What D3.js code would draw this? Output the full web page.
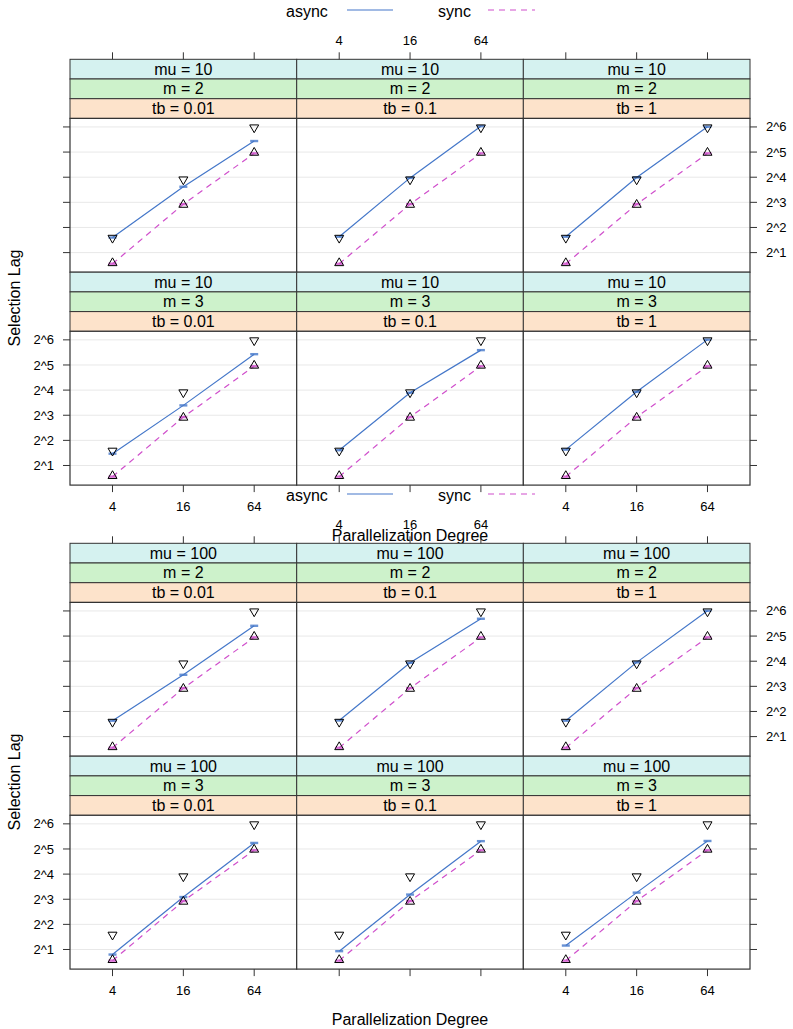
<!DOCTYPE html>
<html>
<head>
<meta charset="utf-8">
<script src="https://d3js.org/d3.v7.min.js"></script>
<style>
  body { margin: 0; background: #fff; }
  text { font-family: "Liberation Sans", Arial, sans-serif; fill: #000; }
</style>
</head>
<body>
<div id="chart"></div>
<script>
// size of page
const width = 793;
const height = 1029;

// data
const degrees = [4, 16, 64];
const muLevels = [10, 100];
const mLevels = [2, 3];
const tbLevels = [0.01, 0.1, 1];
const xTicks = [4, 16, 64];
const yTicks = [2, 4, 8, 16, 32, 64];
const yTickLabels = ["2^1", "2^2", "2^3", "2^4", "2^5", "2^6"];

// async mean lag, one row per tb level
const asyncMu10M2 = [[3.03, 12.3, 43.4], [3.10, 15.7, 65.4], [3.10, 15.9, 64.4]];
const asyncMu10M3 = [[2.77, 10.5, 43.1], [3.05, 14.9, 48.2], [3.10, 15.3, 64.4]];
const asyncMu100M2 = [[3.10, 11.0, 42.5], [3.12, 15.3, 51.6], [3.10, 15.5, 64.4]];
const asyncMu100M3 = [[1.74, 8.5, 37.8], [1.91, 9.1, 39.7], [2.23, 9.6, 39.9]];
// sync mean lag (same in every panel)
const syncMean = [1.47, 7.6, 30.9];
// reference marks (triangles)
const asyncRef = [3, 15, 63];
const syncRef = [1.5, 7.5, 31.5];

const asyncData = {
  "10-2": asyncMu10M2, "10-3": asyncMu10M3,
  "100-2": asyncMu100M2, "100-3": asyncMu100M3
};

const blue = "#4477c9";
const pink = "#d04fcc";
const stripCols = ["#d5f2f0", "#cdf2cb", "#fde3cb"];

// layout
const colX = [70, 296.7, 523.3];
const colW = 226.7;
const stripH = 19.7;
const panelH = 153.8;
const rowTop0 = 59.3;
const rowStep = 3 * stripH + panelH;

const svg = d3.select("#chart").append("svg")
    .attr("width", width)
    .attr("height", height);

function triPath(cx, cy, up) {
  const r = 5.2, xc = 4.5, yc = 2.6;
  if (up) return `M${cx},${cy - r}L${cx + xc},${cy + yc}L${cx - xc},${cy + yc}Z`;
  return `M${cx},${cy + r}L${cx + xc},${cy - yc}L${cx - xc},${cy - yc}Z`;
}

function drawChart(oy, mu) {
  const g = svg.append("g").attr("transform", `translate(0,${oy})`);

  // legend
  g.append("text").attr("x", 286).attr("y", 11).attr("dy", "0.35em")
    .style("font-size", "16px").text("async");
  g.append("line").attr("x1", 347).attr("x2", 393).attr("y1", 10).attr("y2", 10)
    .attr("stroke", blue).attr("stroke-width", 1.2);
  g.append("text").attr("x", 438).attr("y", 11).attr("dy", "0.35em")
    .style("font-size", "16px").text("sync");
  g.append("line").attr("x1", 488).attr("x2", 535).attr("y1", 10).attr("y2", 10)
    .attr("stroke", pink).attr("stroke-width", 1.2).attr("stroke-dasharray", "6,5");

  mLevels.forEach((m, ri) => {
    const top = rowTop0 + ri * rowStep;
    const pTop = top + 3 * stripH;
    const pBot = pTop + panelH;
    const y = d3.scaleLog().base(2)
      .domain([Math.pow(2, 0.22), Math.pow(2, 6.34)])
      .range([pBot, pTop]);

    tbLevels.forEach((tb, ci) => {
      const x0 = colX[ci];
      const x = d3.scaleLog().base(2)
        .domain([Math.pow(2, 0.8), Math.pow(2, 7.2)])
        .range([x0, x0 + colW]);

      // strips
      const labels = [`mu = ${mu}`, `m = ${m}`, `tb = ${tb}`];
      labels.forEach((lab, si) => {
        g.append("rect").attr("x", x0).attr("y", top + si * stripH)
          .attr("width", colW).attr("height", stripH)
          .attr("fill", stripCols[si]).attr("stroke", "#333").attr("stroke-width", 1);
        g.append("text").attr("x", x0 + colW / 2).attr("y", top + si * stripH + stripH / 2)
          .attr("dy", "0.35em").attr("text-anchor", "middle")
          .style("font-size", "16px").text(lab);
      });

      // panel
      const p = g.append("g");
      p.append("rect").attr("x", x0).attr("y", pTop).attr("width", colW).attr("height", panelH)
        .attr("fill", "#fff");
      p.selectAll("line.grid").data(yTicks).join("line")
        .attr("class", "grid")
        .attr("x1", x0).attr("x2", x0 + colW)
        .attr("y1", d => y(d)).attr("y2", d => y(d))
        .attr("stroke", "#e8e8e8").attr("stroke-width", 1);

      const aVals = asyncData[`${mu}-${m}`][ci];
      const line = d3.line().x(d => x(d[0])).y(d => y(d[1]));
      const aPts = degrees.map((d, i) => [d, aVals[i]]);
      const sPts = degrees.map((d, i) => [d, syncMean[i]]);

      p.append("path").attr("d", line(sPts)).attr("fill", "none")
        .attr("stroke", pink).attr("stroke-width", 1.2).attr("stroke-dasharray", "6,5");
      p.append("path").attr("d", line(aPts)).attr("fill", "none")
        .attr("stroke", blue).attr("stroke-width", 1.2);

      // mean dashes
      p.selectAll("rect.sdash").data(sPts).join("rect").attr("class", "sdash")
        .attr("x", d => x(d[0]) - 4).attr("y", d => y(d[1]) - 1.2)
        .attr("width", 8).attr("height", 2.4).attr("fill", pink).attr("opacity", 0.8);
      p.selectAll("rect.adash").data(aPts).join("rect").attr("class", "adash")
        .attr("x", d => x(d[0]) - 4).attr("y", d => y(d[1]) - 1.2)
        .attr("width", 8).attr("height", 2.4).attr("fill", blue).attr("opacity", 0.8);

      // reference triangles
      p.selectAll("path.aref").data(degrees).join("path").attr("class", "aref")
        .attr("d", (d, i) => triPath(x(d), y(asyncRef[i]), false))
        .attr("fill", "none").attr("stroke", "#000").attr("stroke-width", 1);
      p.selectAll("path.sref").data(degrees).join("path").attr("class", "sref")
        .attr("d", (d, i) => triPath(x(d), y(syncRef[i]), true))
        .attr("fill", "none").attr("stroke", "#000").attr("stroke-width", 1);

      p.append("rect").attr("x", x0).attr("y", pTop).attr("width", colW).attr("height", panelH)
        .attr("fill", "none").attr("stroke", "#333").attr("stroke-width", 1.2);

      // x ticks: top row gets top ticks, bottom row gets bottom ticks
      if (ri === 0) {
        g.selectAll(null).data(xTicks).join("line")
          .attr("x1", d => x(d)).attr("x2", d => x(d))
          .attr("y1", top).attr("y2", top - 7)
          .attr("stroke", "#333");
        if (ci === 1) {
          g.selectAll(null).data(xTicks).join("text")
            .attr("x", d => x(d)).attr("y", top - 19).attr("dy", "0.35em")
            .attr("text-anchor", "middle").style("font-size", "13px").text(d => d);
        }
      } else {
        g.selectAll(null).data(xTicks).join("line")
          .attr("x1", d => x(d)).attr("x2", d => x(d))
          .attr("y1", pBot).attr("y2", pBot + 7)
          .attr("stroke", "#333");
        if (ci !== 1) {
          g.selectAll(null).data(xTicks).join("text")
            .attr("x", d => x(d)).attr("y", pBot + 21).attr("dy", "0.35em")
            .attr("text-anchor", "middle").style("font-size", "13px").text(d => d);
        }
      }
    });

    // y ticks on both sides
    const xl = colX[0], xr = colX[2] + colW;
    g.selectAll(null).data(yTicks).join("line")
      .attr("x1", xl).attr("x2", xl - 7).attr("y1", d => y(d)).attr("y2", d => y(d))
      .attr("stroke", "#333");
    g.selectAll(null).data(yTicks).join("line")
      .attr("x1", xr).attr("x2", xr + 7).attr("y1", d => y(d)).attr("y2", d => y(d))
      .attr("stroke", "#333");
    if (ri === 0) {
      g.selectAll(null).data(yTicks).join("text")
        .attr("x", xr + 16).attr("y", d => y(d)).attr("dy", "0.35em")
        .style("font-size", "13px").text((d, i) => yTickLabels[i]);
    } else {
      g.selectAll(null).data(yTicks).join("text")
        .attr("x", xl - 16).attr("y", d => y(d)).attr("dy", "0.35em")
        .attr("text-anchor", "end")
        .style("font-size", "13px").text((d, i) => yTickLabels[i]);
    }
  });

  // axis titles
  g.append("text").attr("transform", "translate(14,298) rotate(-90)")
    .attr("dy", "0.35em").attr("text-anchor", "middle")
    .style("font-size", "16px").text("Selection Lag");
  g.append("text").attr("x", 410).attr("y", 535).attr("dy", "0.35em")
    .attr("text-anchor", "middle").style("font-size", "16px").text("Parallelization Degree");
}

drawChart(0, muLevels[0]);
drawChart(484, muLevels[1]);
</script>
</body>
</html>
